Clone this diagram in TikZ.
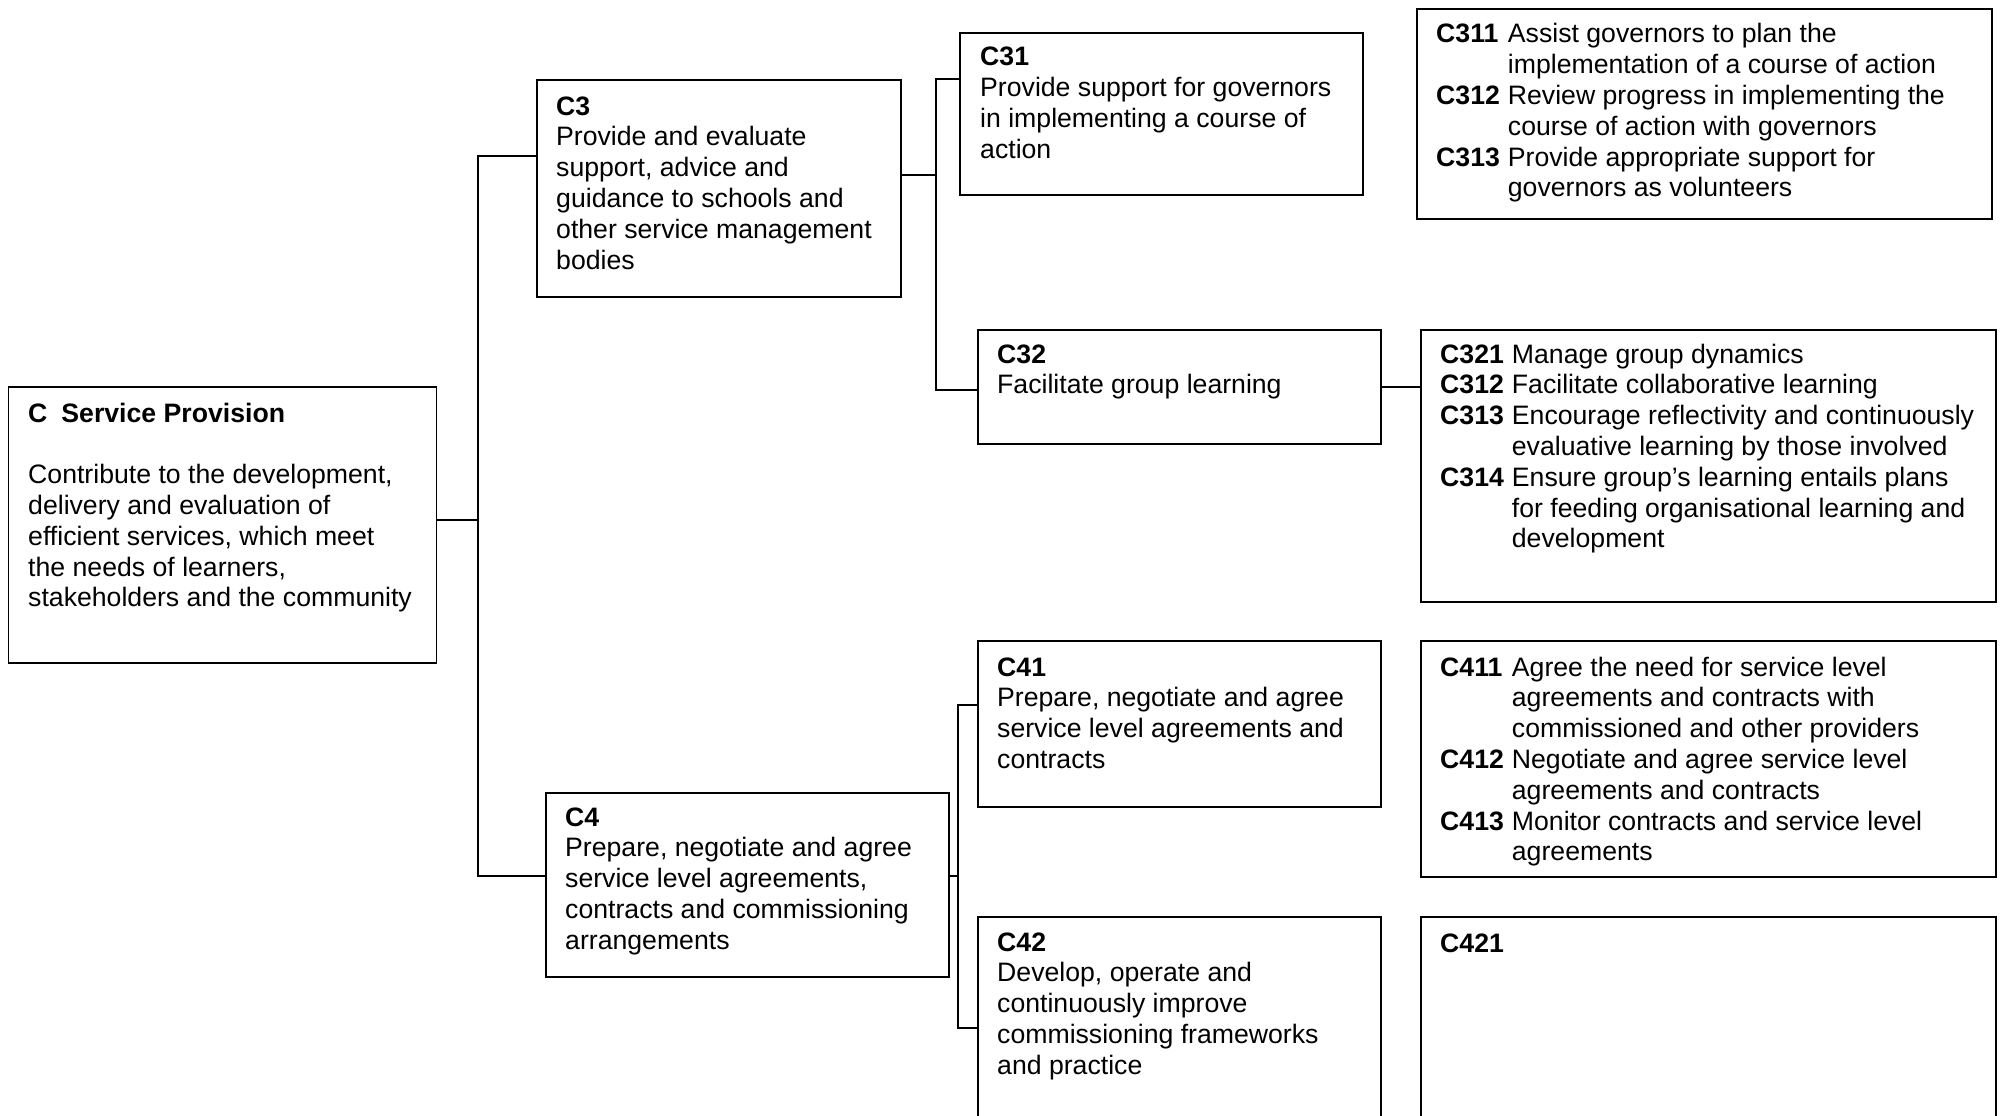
\documentclass[tikz,border=0pt]{standalone}
\usepackage{fontspec}
\setmainfont{Liberation Sans}
\usetikzlibrary{calc}

\tikzset{
  box/.style={draw, line width=1.6pt, anchor=north west, inner sep=0pt},
  txt/.style={anchor=base west, inner sep=0pt, font=\fontsize{26.65}{30.8}\selectfont},
  link/.style={line width=1.6pt},
}
% two-column list: bold code, then the wrapped description
\newenvironment{codelist}{\begin{tabular}[t]{@{}l@{\hspace{8pt}}l@{}}}{\end{tabular}}
\newenvironment{plainlist}{\begin{tabular}[t]{@{}l@{}}}{\end{tabular}}

\begin{document}
\begin{tikzpicture}[x=1pt,y=-1pt]
\useasboundingbox (0,0) rectangle (2000,1116);
\clip (0,0) rectangle (2000,1116);

% ---- boxes ----
\node[box, minimum width=428pt, minimum height=276pt] (c)    at (7.7,386) {};
\node[box, minimum width=364pt, minimum height=217pt] (c3)   at (536,79)  {};
\node[box, minimum width=403pt, minimum height=162pt] (c31)  at (959,32)  {};
\node[box, minimum width=575pt, minimum height=210pt] (c311) at (1416,8)  {};
\node[box, minimum width=403pt, minimum height=114pt] (c32)  at (977,329) {};
\node[box, minimum width=575pt, minimum height=272pt] (c321) at (1420,329) {};
\node[box, minimum width=403pt, minimum height=184pt] (c4)   at (545,792) {};
\node[box, minimum width=403pt, minimum height=166pt] (c41)  at (977,640) {};
\node[box, minimum width=575pt, minimum height=236pt] (c411) at (1420,640) {};
\node[box, minimum width=403pt, minimum height=240pt] (c42)  at (977,916) {};
\node[box, minimum width=575pt, minimum height=240pt] (c421) at (1420,916) {};

% ---- texts ----
\node[txt] (tc) at (28,422) {\begin{plainlist}
\textbf{C\hspace{14pt}Service Provision}\\
\\
Contribute to the development,\\
delivery and evaluation of\\
efficient services, which meet\\
the needs of learners,\\
stakeholders and the community
\end{plainlist}};

\node[txt] (tc3) at (556,115) {\begin{plainlist}
\textbf{C3}\\
Provide and evaluate\\
support, advice and\\
guidance to schools and\\
other service management\\
bodies
\end{plainlist}};

\node[txt] (tc31) at (980,66) {\begin{plainlist}
\textbf{C31}\\
Provide support for governors\\
in implementing a course of\\
action
\end{plainlist}};

\node[txt] (tc311) at (1436,43) {\begin{codelist}
\textbf{C311} & Assist governors to plan the\\
 & implementation of a course of action\\
\textbf{C312} & Review progress in implementing the\\
 & course of action with governors\\
\textbf{C313} & Provide appropriate support for\\
 & governors as volunteers
\end{codelist}};

\node[txt] (tc32) at (997,363) {\begin{plainlist}
\textbf{C32}\\
Facilitate group learning
\end{plainlist}};

\node[txt] (tc321) at (1440,363) {\begin{codelist}
\textbf{C321} & Manage group dynamics\\
\textbf{C312} & Facilitate collaborative learning\\
\textbf{C313} & Encourage reflectivity and continuously\\
 & evaluative learning by those involved\\
\textbf{C314} & Ensure group’s learning entails plans\\
 & for feeding organisational learning and\\
 & development
\end{codelist}};

\node[txt] (tc4) at (565,826) {\begin{plainlist}
\textbf{C4}\\
Prepare, negotiate and agree\\
service level agreements,\\
contracts and commissioning\\
arrangements
\end{plainlist}};

\node[txt] (tc41) at (997,676) {\begin{plainlist}
\textbf{C41}\\
Prepare, negotiate and agree\\
service level agreements and\\
contracts
\end{plainlist}};

\node[txt] (tc411) at (1440,676) {\begin{codelist}
\textbf{C411} & Agree the need for service level\\
 & agreements and contracts with\\
 & commissioned and other providers\\
\textbf{C412} & Negotiate and agree service level\\
 & agreements and contracts\\
\textbf{C413} & Monitor contracts and service level\\
 & agreements
\end{codelist}};

\node[txt] (tc42) at (997,951) {\begin{plainlist}
\textbf{C42}\\
Develop, operate and\\
continuously improve\\
commissioning frameworks\\
and practice
\end{plainlist}};

\node[txt] (tc421) at (1440,952) {\textbf{C421}};

% ---- junction points of the tree ----
\coordinate (j3)  at (478,156);
\coordinate (j4)  at (478,876);
\coordinate (jc)  at (478,520);
\coordinate (k3)  at (936,175);
\coordinate (k31) at (936,79);
\coordinate (k32) at (936,390);
\coordinate (k4)  at (958,876);
\coordinate (k41) at (958,705);
\coordinate (k42) at (958,1028);

% ---- connectors ----
\draw[link] (jc -| c.east) -- (jc);
\draw[link] (j3 -| c3.west) -- (j3) -- (j4) -- (j4 -| c4.west);

\draw[link] (k3 -| c3.east) -- (k3);
\draw[link] (k31 -| c31.west) -- (k31) -- (k32) -- (k32 -| c32.west);
\draw[link] ($(c31.east)+(0,-10)$) -- ($(c31.east)+(0,-10)$ -| c311.west);
\draw[link] (c32.east) -- (c32.east -| c321.west);

\draw[link] (k4 -| c4.east) -- (k4);
\draw[link] (k41 -| c41.west) -- (k41) -- (k42) -- (k42 -| c42.west);
\draw[link] ($(c41.east)+(0,-4)$) -- ($(c41.east)+(0,-4)$ -| c411.west);
\end{tikzpicture}
\end{document}
